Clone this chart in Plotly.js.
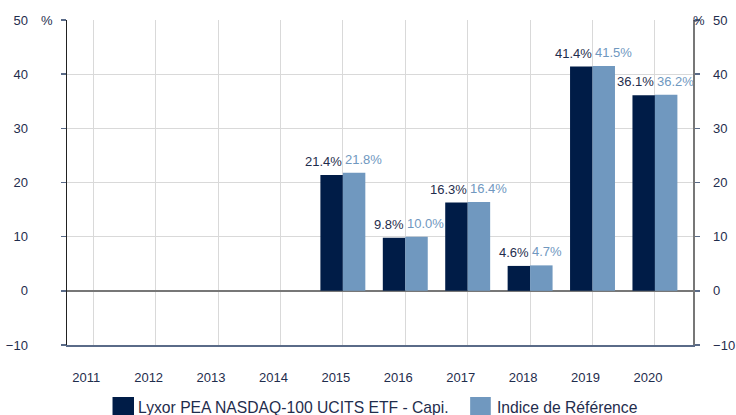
<!DOCTYPE html>
<html>
<head>
<meta charset="utf-8">
<script src="https://cdn.plot.ly/plotly-3.0.1.min.js"></script>
<style>html,body{margin:0;padding:0;background:#fff}#chart{width:736px;height:415px}</style>
</head>
<body>
<div id="chart"></div>
<script>
const years = ['2011','2012','2013','2014','2015','2016','2017','2018','2019','2020'];
const fundValues = [null, null, null, null, 21.4, 9.8, 16.3, 4.6, 41.4, 36.1];
const indexValues = [null, null, null, null, 21.8, 10.0, 16.4, 4.7, 41.5, 36.2];
const seriesNames = ['Lyxor PEA NASDAQ-100 UCITS ETF - Capi.', 'Indice de Référence'];
const yTicks = [-10, 0, 10, 20, 30, 40, 50];

const darkC = '#001c47';
const lightC = '#7098bf';
const font = 'Liberation Sans, Arial, sans-serif';

const traces = [
  {type:'bar', x: years, y: fundValues, name: seriesNames[0], marker:{color:darkC}, showlegend:false, hoverinfo:'y'},
  {type:'bar', x: years, y: indexValues, name: seriesNames[1], marker:{color:lightC}, showlegend:false, hoverinfo:'y'},
  {type:'scatter', x: years, y: fundValues.map(()=>null), yaxis:'y2', showlegend:false, hoverinfo:'skip'}
];

const annotations = [];
years.forEach((yr, i) => {
  if (fundValues[i] !== null) {
    annotations.push({x: i, y: fundValues[i], xref:'x', yref:'y', text: fundValues[i].toFixed(1) + '%',
      showarrow:false, xanchor:'right', yanchor:'bottom', xshift:1, yshift:4,
      font:{family:font, size:13, color:'#1f2d4d'}});
  }
  if (indexValues[i] !== null) {
    annotations.push({x: i, y: indexValues[i], xref:'x', yref:'y', text: indexValues[i].toFixed(1) + '%',
      showarrow:false, xanchor:'left', yanchor:'bottom', xshift:0, yshift:4,
      font:{family:font, size:13, color:lightC}});
  }
});
annotations.push({x:-0.032, y:1, xref:'paper', yref:'paper', text:'%', showarrow:false, xanchor:'center', yanchor:'middle', font:{family:font, size:13, color:'#1f2d4d'}});
annotations.push({x:1.0096, y:1, xref:'paper', yref:'paper', text:'%', showarrow:false, xanchor:'center', yanchor:'middle', font:{family:font, size:13, color:'#1f2d4d'}});
annotations.push({x:0.110, y:-0.191, xref:'paper', yref:'paper', text:seriesNames[0], showarrow:false, xanchor:'left', yanchor:'middle', font:{family:font, size:15.7, color:'#1f2d4d'}});
annotations.push({x:0.684, y:-0.191, xref:'paper', yref:'paper', text:seriesNames[1], showarrow:false, xanchor:'left', yanchor:'middle', font:{family:font, size:15.7, color:'#1f2d4d'}});

const shapes = [
  {type:'rect', xref:'paper', yref:'paper', x0:0.0727, x1:0.107, y0:-0.16, y1:-0.2215, fillcolor:darkC, line:{width:0}},
  {type:'rect', xref:'paper', yref:'paper', x0:0.644, x1:0.677, y0:-0.16, y1:-0.2215, fillcolor:lightC, line:{width:0}}
];

const layout = {
  width:736, height:415,
  margin:{l:67, r:43, t:20, b:70},
  paper_bgcolor:'#fff', plot_bgcolor:'#fff',
  font:{family:font, size:13, color:'#1f2d4d'},
  barmode:'group', bargap:0.28, bargroupgap:0,
  xaxis:{type:'category', range:[-0.42, 9.61], showgrid:true, gridcolor:'#d9d9d9', gridwidth:1,
    showline:true, linecolor:'#5a6b88', linewidth:1.5, ticks:'', ticklabelstandoff:20, ticklabelshift:-7,
    tickfont:{family:font, size:13, color:'#1f2d4d'}, fixedrange:true},
  yaxis:{range:[-10, 50], tickvals:yTicks, showgrid:true, gridcolor:'#d9d9d9', gridwidth:1,
    zeroline:true, zerolinecolor:'#777', zerolinewidth:1.5,
    showline:true, linecolor:'#222', linewidth:1.5, ticks:'outside', ticklen:5, tickcolor:'#5a6b88', tickwidth:1.5,
    ticklabelstandoff:30, tickfont:{family:font, size:13, color:'#1f2d4d'}},
  yaxis2:{range:[-10, 50], tickvals:yTicks, overlaying:'y', side:'right', showgrid:false, zeroline:false,
    showline:true, linecolor:'#777', linewidth:1.5, ticks:'outside', ticklen:5, tickcolor:'#5a6b88', tickwidth:1.5,
    ticklabelstandoff:11, tickfont:{family:font, size:13, color:'#1f2d4d'}},
  annotations: annotations,
  shapes: shapes,
  showlegend:false
};

Plotly.newPlot('chart', traces, layout, {displayModeBar:false, staticPlot:true});
</script>
</body>
</html>
